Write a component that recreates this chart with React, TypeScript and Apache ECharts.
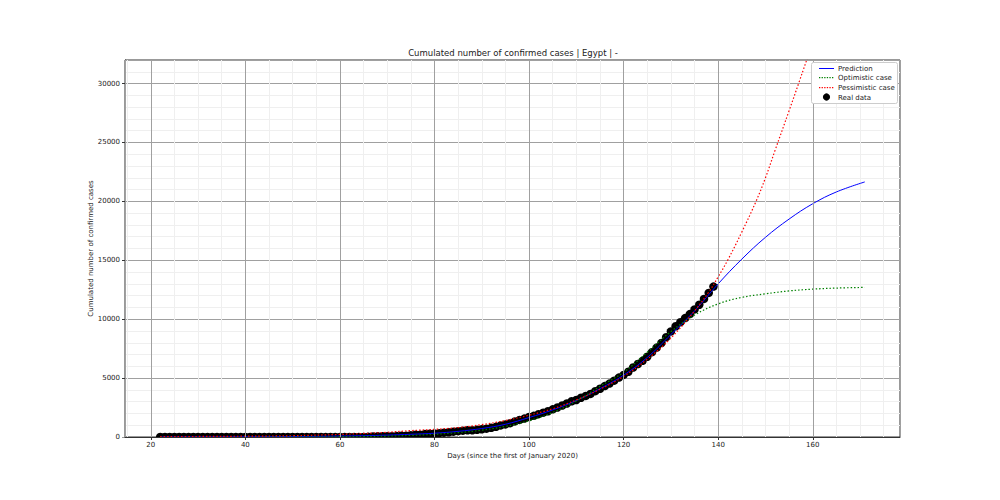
import React, { useEffect, useRef } from "react";
import * as echarts from "echarts";

const FONT = "DejaVu Sans";

// Real data: cumulated confirmed cases, one value per day starting at day 22
const firstDay = 22;
const realCases = [
  0, 0, 0, 0, 0, 0, 0, 0, 0, 0, 0, 0, 0, 0, 0, 0, 0, 0, 0, 0, 0, 0, 0,
  1, 1, 1, 1, 1, 1, 1, 1, 1, 1, 1, 1, 1, 1, 1, 1,
  2, 2, 2, 2, 3, 15, 49, 55, 59, 60, 67, 80, 109, 110, 150, 196, 196, 256, 285, 294,
  327, 366, 402, 456, 495, 536, 576, 576, 609, 656, 710, 779, 865, 985, 1070, 1173,
  1322, 1450, 1560, 1699, 1794, 1939, 2065, 2190, 2350, 2505, 2673, 2844, 3032, 3144,
  3333, 3490, 3659, 3891, 4092, 4319, 4534, 4782, 5042, 5268, 5537, 5895, 6193, 6465,
  6813, 7201, 7588, 7981, 8476, 8964, 9400, 9746, 10093, 10431, 10829, 11228, 11719,
  12229, 12764,
];

// Model curves
const predDays = [22, 30, 40, 50, 60, 65, 70, 75, 80, 85, 90, 95, 100, 105, 110, 115, 120, 125, 130, 135, 140, 145, 150, 155, 160, 165, 171];
const prediction = [5, 10, 20, 40, 80, 110, 160, 230, 320, 480, 720, 1080, 1650, 2300, 3100, 4100, 5250, 6750, 8700, 10700, 13000, 15100, 16950, 18500, 19800, 20800, 21650];
const optimistic = [0, 0, 2, 8, 25, 45, 80, 140, 230, 370, 580, 900, 1380, 2080, 3050, 4300, 5500, 7200, 8950, 10350, 11300, 11850, 12150, 12400, 12550, 12640, 12700];

const pessDays = [22, 30, 40, 50, 60, 65, 70, 75, 80, 85, 90, 95, 100, 105, 110, 115, 120, 125, 130, 135, 138, 140, 142, 145, 148, 150, 152, 155, 157, 160, 165, 171];
const pessimistic = [30, 45, 70, 110, 220, 300, 400, 540, 650, 800, 1050, 1400, 1850, 2400, 3150, 4050, 5150, 6600, 8400, 10700, 12300, 13600, 15000, 17400, 20000, 22000, 24300, 27700, 30000, 33500, 39500, 47000];

// Legend entries
const legendNames = ["Prediction", "Optimistic case", "Pessimistic case", "Real data"];
const legendColors = ["#0000ff", "#008000", "#ff0000", "#000000"];

// Axis settings
const xMin = 14.55;
const xMax = 178.45;
const yMax = 32000;
const xMinorTicks = [15, 25, 30, 35, 45, 50, 55, 65, 70, 75, 85, 90, 95, 105, 110, 115, 125, 130, 135, 145, 150, 155, 165, 170, 175];
const yMinorTicks = [1000, 2000, 3000, 4000, 6000, 7000, 8000, 9000, 11000, 12000, 13000, 14000, 16000, 17000, 18000, 19000, 21000, 22000, 23000, 24000, 26000, 27000, 28000, 29000, 31000];

const zip = (xs: number[], ys: number[]) => xs.map((x, i) => [x, ys[i]]);

const DOTTED = [1.5, 2];

function legendGraphic() {
  const els: any[] = [
    {
      id: "lg-box",
      type: "rect",
      z: 100,
      silent: true,
      shape: { x: 811.5, y: 62.5, width: 86, height: 41, r: 2 },
      style: { fill: "#ffffff", stroke: "#cccccc", lineWidth: 1 },
    },
  ];
  const rowY = [68, 77.5, 87, 97];
  legendNames.forEach((name, i) => {
    const cy = rowY[i];
    if (i === 0) {
      els.push({
        id: "lg-line-0",
        type: "rect",
        z: 101,
        silent: true,
        shape: { x: 819, y: Math.floor(cy), width: 15, height: 1 },
        style: { fill: legendColors[i] },
      });
    } else if (i < 3) {
      for (let k = 0; k < 6; k++) {
        els.push({
          id: "lg-dot-" + i + "-" + k,
          type: "rect",
          z: 101,
          silent: true,
          shape: { x: 819 + k * 2.6, y: Math.floor(cy), width: 1.3, height: 1.2 },
          style: { fill: legendColors[i] },
        });
      }
    } else {
      els.push({
        id: "lg-dot",
        type: "circle",
        z: 101,
        silent: true,
        shape: { cx: 826.5, cy, r: 3.6 },
        style: { fill: legendColors[i] },
      });
    }
    els.push({
      id: "lg-text-" + i,
      type: "text",
      z: 101,
      silent: true,
      x: 838,
      y: cy + 0.5,
      style: {
        text: name,
        fontSize: 7,
        fontFamily: FONT,
        fill: "#222",
        align: "left",
        verticalAlign: "middle",
      },
    });
  });
  return els;
}

export default function App() {
  const ref = useRef<HTMLDivElement>(null);
  useEffect(() => {
    document.body.style.margin = "0";
    const chart = echarts.init(ref.current!, null, { renderer: "svg" });
    const option: any = {
      animation: false,
      backgroundColor: "#fff",
      textStyle: { fontFamily: FONT },
      title: {
        text: "Cumulated number of confirmed cases | Egypt | -",
        left: 513,
        top: 48,
        padding: 0,
        textAlign: "center",
        textStyle: { fontSize: 8.5, fontWeight: "normal", color: "#222", fontFamily: FONT },
      },
      grid: {
        left: 125,
        right: 100,
        top: 60,
        bottom: 63,
        show: true,
        borderColor: "#333",
        borderWidth: 1,
        backgroundColor: "transparent",
      },
      xAxis: {
        type: "value",
        min: xMin,
        max: xMax,
        splitNumber: 8,
        minInterval: 20,
        maxInterval: 20,
        z: 60,
        name: "Days (since the first of January 2020)",
        nameLocation: "middle",
        nameGap: 14,
        nameTextStyle: { fontSize: 7, color: "#222", fontFamily: FONT },
        axisLine: { show: true, onZero: false, lineStyle: { color: "#333" } },
        axisTick: { show: true, length: 3, lineStyle: { color: "#333" } },
        axisLabel: { fontSize: 7, color: "#222", margin: 4, showMinLabel: false, showMaxLabel: false, fontFamily: FONT },
        splitLine: { show: true, lineStyle: { color: "#a0a0a0", width: 1 } },
      },
      yAxis: {
        type: "value",
        min: 0,
        max: yMax,
        interval: 5000,
        name: "Cumulated number of confirmed cases",
        nameLocation: "middle",
        nameGap: 31,
        nameMoveOverlap: false,
        nameTextStyle: { fontSize: 7, color: "#222", fontFamily: FONT },
        axisLine: { show: true, onZero: false, lineStyle: { color: "#333" } },
        axisTick: { show: true, length: 3, lineStyle: { color: "#333" } },
        axisLabel: {
          fontSize: 7,
          color: "#222",
          margin: 5,
          showMaxLabel: false,
          fontFamily: FONT,
          formatter: (v: number) => String(v),
        },
        splitLine: { show: true, lineStyle: { color: "#a0a0a0", width: 1 } },
      },
      graphic: [
        {
          id: "bottom-clip",
          type: "rect",
          z: 50,
          silent: true,
          shape: { x: 120, y: 437.5, width: 790, height: 5 },
          style: { fill: "#fff" },
        },
        ...legendGraphic(),
      ],
      series: [
        {
          name: "minor-grid",
          type: "line",
          data: [],
          silent: true,
          z: 1,
          markLine: {
            z: 1,
            silent: true,
            symbol: ["none", "none"],
            label: { show: false },
            lineStyle: { color: "#efefef", width: 1, type: "solid" },
            emphasis: { disabled: true },
            data: [
              ...xMinorTicks.map((v) => ({ xAxis: v })),
              ...yMinorTicks.map((v) => ({ yAxis: v })),
            ],
          },
        },
        {
          name: "Real data",
          type: "scatter",
          z: 2,
          symbolSize: 8.5,
          itemStyle: { color: "#000", opacity: 1, borderWidth: 0 },
          data: realCases.map((v, i) => [firstDay + i, v]),
        },
        {
          name: "Prediction",
          type: "line",
          z: 3,
          symbol: "none",
          showSymbol: false,
          smooth: 0.4,
          itemStyle: { color: "#0000ff" },
          lineStyle: { color: "#0000ff", width: 1 },
          data: zip(predDays, prediction),
        },
        {
          name: "Optimistic case",
          type: "line",
          z: 3,
          symbol: "none",
          showSymbol: false,
          smooth: 0.4,
          itemStyle: { color: "#008000" },
          lineStyle: { color: "#008000", width: 1.2, type: DOTTED },
          data: zip(predDays, optimistic),
        },
        {
          name: "Pessimistic case",
          type: "line",
          z: 3,
          symbol: "none",
          showSymbol: false,
          smooth: 0.4,
          itemStyle: { color: "#ff0000" },
          lineStyle: { color: "#ff0000", width: 1.2, type: DOTTED },
          data: zip(pessDays, pessimistic),
        },
      ],
    };
    chart.setOption(option);
    return () => chart.dispose();
  }, []);
  return <div ref={ref} style={{ width: 1000, height: 500 }} />;
}
